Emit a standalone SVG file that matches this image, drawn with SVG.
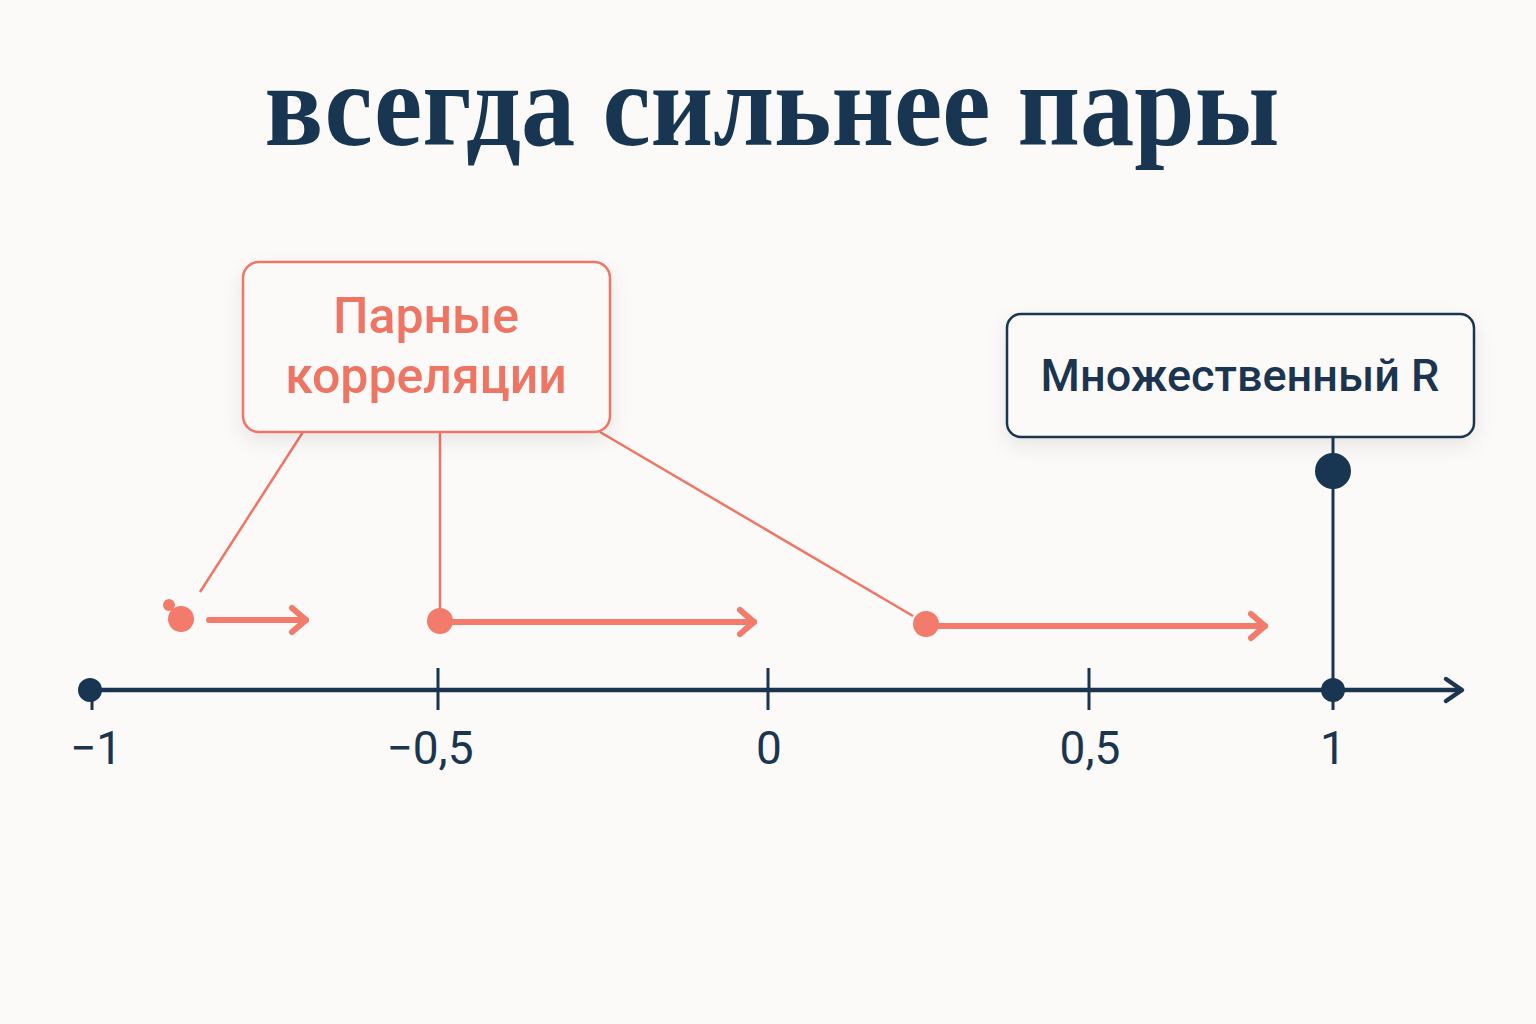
<svg xmlns="http://www.w3.org/2000/svg" width="1536" height="1024" viewBox="0 0 1536 1024">
<defs>
<style>
.title{font-family:"Liberation Serif","DejaVu Serif",serif;font-weight:bold;fill:#183651;font-size:118px}
.lbl{font-family:Roboto,"Noto Sans",sans-serif;fill:#1b3550;font-size:46px}
.pink{font-family:Roboto,"Noto Sans",sans-serif;fill:#ee7563;font-size:50px;font-weight:500}
.navy{font-family:Roboto,"Noto Sans",sans-serif;fill:#1b3550;font-size:45px;font-weight:500}
.pl{stroke:#ef7565;stroke-width:2.5;fill:none}
.pa{stroke:#f27b6b;stroke-width:6;fill:none;stroke-linecap:round;stroke-linejoin:round}
.ax{stroke:#1b3550;stroke-width:4.5;fill:none;stroke-linecap:round;stroke-linejoin:round}
.tick{stroke:#1b3550;stroke-width:3}
</style>
<filter id="sh" x="-20%" y="-20%" width="140%" height="160%">
<feDropShadow dx="0" dy="8" stdDeviation="10" flood-color="#000" flood-opacity="0.08"/>
</filter>
</defs>
<rect width="1536" height="1024" fill="#fbfaf8"/>
<text class="title" x="772" y="145" text-anchor="middle" textLength="1015" lengthAdjust="spacingAndGlyphs">всегда сильнее пары</text>

<g id="connectors">
<line class="pl" x1="303" y1="432" x2="200" y2="592"/>
<line class="pl" x1="440" y1="432" x2="440" y2="621"/>
<line class="pl" x1="600" y1="432" x2="913" y2="616"/>
<line x1="1333" y1="437" x2="1333" y2="690" stroke="#1b3550" stroke-width="3"/>
</g>

<g id="axis">
<line class="ax" x1="90" y1="690" x2="1460" y2="690"/>
<polyline class="ax" points="1446,679 1462,690 1446,701"/>
<circle cx="90" cy="690" r="12" fill="#183651"/>
<line class="tick" x1="92" y1="690" x2="92" y2="710"/>
<line class="tick" x1="438" y1="668" x2="438" y2="710"/>
<line class="tick" x1="768" y1="668" x2="768" y2="710"/>
<line class="tick" x1="1089" y1="668" x2="1089" y2="710"/>
<line class="tick" x1="1333" y1="690" x2="1333" y2="710"/>
<circle cx="1333" cy="690" r="12" fill="#183651"/>
<text class="lbl" x="96" y="764" text-anchor="middle">−1</text>
<text class="lbl" x="430" y="764" text-anchor="middle">−0,5</text>
<text class="lbl" x="769" y="764" text-anchor="middle">0</text>
<text class="lbl" x="1090" y="764" text-anchor="middle">0,5</text>
<text class="lbl" x="1333" y="764" text-anchor="middle">1</text>
</g>

<g id="arrow1">
<circle cx="169" cy="605" r="6" fill="#f27b6b"/>
<circle cx="181" cy="619" r="13" fill="#f27b6b"/>
<line class="pa" x1="209" y1="620" x2="306" y2="620"/>
<polyline class="pa" points="292,608 306,620 292,632"/>
</g>
<g id="arrow2">
<circle cx="440" cy="621" r="13" fill="#f27b6b"/>
<line class="pa" x1="440" y1="622" x2="754" y2="622"/>
<polyline class="pa" points="740,610 754,622 740,634"/>
</g>
<g id="arrow3">
<circle cx="926" cy="624" r="13" fill="#f27b6b"/>
<line class="pa" x1="926" y1="626" x2="1265" y2="626"/>
<polyline class="pa" points="1251,614 1265,626 1251,638"/>
</g>

<g id="node-pair">
<rect x="243" y="262" width="367" height="170" rx="16" fill="#fbfaf8" stroke="#ef7565" stroke-width="2.5" filter="url(#sh)"/>
<text class="pink" x="426" y="333" text-anchor="middle">Парные</text>
<text class="pink" x="426" y="393" text-anchor="middle">корреляции</text>
</g>

<g id="node-multiple">
<rect x="1007" y="314" width="467" height="123" rx="14" fill="#fbfaf8" stroke="#1b3550" stroke-width="2.5" filter="url(#sh)"/>
<text class="navy" x="1240" y="391" text-anchor="middle">Множественный R</text>
</g>
<circle cx="1333" cy="471" r="18" fill="#183651"/>
</svg>
